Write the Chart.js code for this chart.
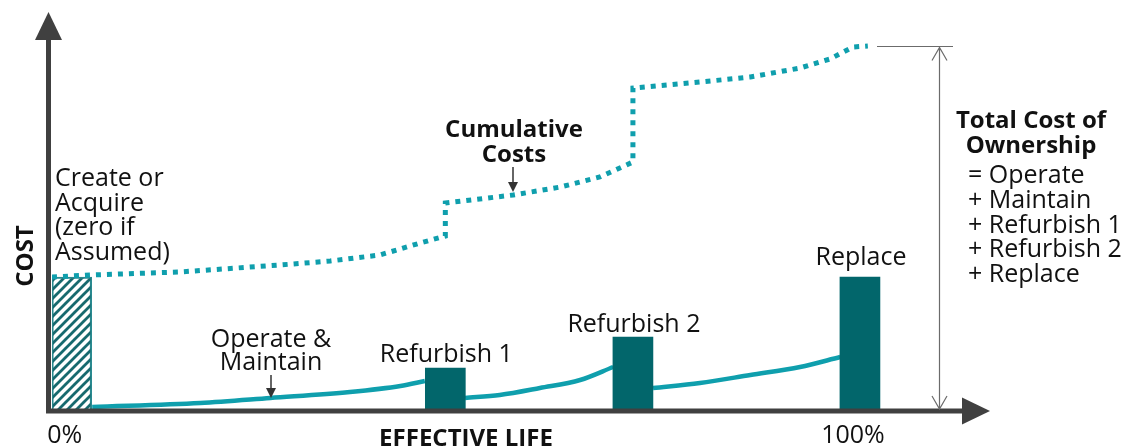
<!DOCTYPE html>
<html>
<head>
<meta charset="utf-8">
<script src="https://cdn.jsdelivr.net/npm/chart.js@4.4.1/dist/chart.umd.min.js"></script>
<style>
    body { margin: 0; background: #fff; }
    canvas { display: block; }
</style>
</head>
<body>
<canvas id="lifeChart" width="1127" height="448"></canvas>
<script>
// Life cycle cost data (x = % of effective life, y = relative cost)

// Tick labels on the life axis
const tickValues = [0, 100];
const tickLabels = ['0%', '100%'];

// Create or acquire (hatched bar at start of life)
const createLife = 0;
const createCost = 33;

// Refurbish / replace bars
const barLabels = ['Refurbish 1', 'Refurbish 2', 'Replace'];
const barLife = [47.4, 71.2, 100];
const barCost = [10.25, 18, 33];

// Operate & maintain curve, one piece between each event
const omLife1 = [2.6, 16.3, 25.2, 35.3, 41.7, 44.8];
const omCost1 = [0.5, 1.5, 2.75, 4.25, 5.75, 7.0];
const omLife2 = [49.9, 54.3, 59.4, 64.5, 68.7];
const omCost2 = [2.75, 3.5, 5.25, 7.25, 10.5];
const omLife3 = [73.75, 79.7, 86.1, 92.4, 97.5];
const omCost3 = [5.25, 6.5, 8.5, 10.5, 13.0];

// Cumulative costs (steps at each refurbishment)
const cumLife = [-2.5, 2.3, 13.7, 26.4, 32.8, 39.1, 44.2, 47.4, 47.4, 56.0, 62.0, 67.0, 71.2, 71.2, 79.7, 86.1, 92.4, 96.2, 99.1, 101.0];
const cumCost = [33, 33.5, 34.25, 36, 37, 38.5, 41.5, 43.25, 51.5, 53.5, 55.5, 58, 61.75, 80.25, 81.75, 83, 85.25, 87.5, 90.5, 90.75];

const TEAL = '#0f9fad';
const DARK_TEAL = '#02666b';
const AXIS = '#404040';
const TEXT = '#111111';
const FONT = '"Open Sans", "DejaVu Sans", sans-serif';

// Zip two arrays into {x, y} points
function toPoints(xs, ys) {
    return xs.map((x, i) => ({ x: x, y: ys[i] }));
}

// Diagonal hatch pattern for the create/acquire bar
function makeHatch(ctx, color) {
    const size = 9;
    const tile = document.createElement('canvas');
    tile.width = size;
    tile.height = size;
    const g = tile.getContext('2d');
    g.strokeStyle = color;
    g.lineWidth = 2.8;
    g.beginPath();
    g.moveTo(0, size); g.lineTo(size, 0);
    g.moveTo(-size / 2, size / 2); g.lineTo(size / 2, -size / 2);
    g.moveTo(size / 2, size * 1.5); g.lineTo(size * 1.5, size / 2);
    g.stroke();
    return ctx.createPattern(tile, 'repeat');
}

function drawText(ctx, str, x, y, bold, align) {
    ctx.font = (bold ? 'bold 24px ' : '25px ') + FONT;
    ctx.textAlign = align || 'center';
    ctx.textBaseline = 'alphabetic';
    ctx.fillStyle = TEXT;
    ctx.fillText(str, x, y);
}

function drawTriangle(ctx, pts) {
    ctx.beginPath();
    ctx.moveTo(pts[0][0], pts[0][1]);
    ctx.lineTo(pts[1][0], pts[1][1]);
    ctx.lineTo(pts[2][0], pts[2][1]);
    ctx.closePath();
    ctx.fill();
}

// Small pointer arrow under a label
function drawPointer(ctx, x, y1, y2) {
    ctx.strokeStyle = '#333';
    ctx.fillStyle = '#333';
    ctx.lineWidth = 1.5;
    ctx.beginPath();
    ctx.moveTo(x, y1);
    ctx.lineTo(x, y2 - 8);
    ctx.stroke();
    drawTriangle(ctx, [[x, y2], [x - 5, y2 - 10], [x + 5, y2 - 10]]);
}

// Axes, arrows and all the annotation text
const overlayPlugin = {
    id: 'overlay',
    afterDatasetsDraw(chart) {
        const ctx = chart.ctx;
        const area = chart.chartArea;
        const xs = chart.scales.x;
        const ys = chart.scales.y;
        ctx.save();

        // Axes with arrow heads
        const ax = area.left - 3.5;
        const ay = area.bottom + 2;
        ctx.strokeStyle = AXIS;
        ctx.fillStyle = AXIS;
        ctx.lineWidth = 5;
        ctx.beginPath();
        ctx.moveTo(ax, ay + 2.5);
        ctx.lineTo(ax, 38);
        ctx.moveTo(ax - 2.5, ay);
        ctx.lineTo(area.right - 26, ay);
        ctx.stroke();
        drawTriangle(ctx, [[ax, 12], [ax - 13.5, 40], [ax + 13.5, 40]]);
        drawTriangle(ctx, [[area.right, ay], [area.right - 28, ay - 13.5], [area.right - 28, ay + 13.5]]);

        // Axis titles
        drawText(ctx, 'EFFECTIVE LIFE', 466, 446, true);
        ctx.save();
        ctx.translate(33, 256);
        ctx.rotate(-Math.PI / 2);
        drawText(ctx, 'COST', 0, 0, true);
        ctx.restore();

        // Tick labels
        tickValues.forEach((v, i) => {
            drawText(ctx, tickLabels[i], xs.getPixelForValue(v) - 7, 443, false);
        });

        // Bar labels
        const labelBaselines = [362, 332, 265];
        barLabels.forEach((label, i) => {
            drawText(ctx, label, xs.getPixelForValue(barLife[i]) + 1, labelBaselines[i], false);
        });

        // Create or acquire note
        ['Create or', 'Acquire', '(zero if', 'Assumed)'].forEach((line, i) => {
            drawText(ctx, line, 55, 186 + i * 24.7, false, 'left');
        });

        // Operate & maintain note
        drawText(ctx, 'Operate &', 271, 347, false);
        drawText(ctx, 'Maintain', 271, 370, false);
        drawPointer(ctx, 271, 375, 398);

        // Cumulative costs note
        drawText(ctx, 'Cumulative', 514, 137, true);
        drawText(ctx, 'Costs', 514, 162, true);
        drawPointer(ctx, 513, 167, 192);

        // Total cost of ownership bracket
        const topY = ys.getPixelForValue(cumCost[cumCost.length - 1]) + 0.5;
        ctx.strokeStyle = '#6b6b6b';
        ctx.lineWidth = 1.2;
        ctx.beginPath();
        ctx.moveTo(877, topY);
        ctx.lineTo(953, topY);
        ctx.moveTo(939.5, topY + 1);
        ctx.lineTo(939.5, area.bottom);
        ctx.moveTo(932, topY + 14); ctx.lineTo(939.5, topY + 1); ctx.lineTo(947, topY + 14);
        ctx.moveTo(932, area.bottom - 13); ctx.lineTo(939.5, area.bottom); ctx.lineTo(947, area.bottom - 13);
        ctx.stroke();

        drawText(ctx, 'Total Cost of', 1031, 128, true);
        drawText(ctx, 'Ownership', 1031, 153, true);
        ['= Operate', '+ Maintain', '+ Refurbish 1', '+ Refurbish 2', '+ Replace'].forEach((line, i) => {
            drawText(ctx, line, 968, 183 + i * 24.8, false, 'left');
        });

        ctx.restore();
    }
};

function createLifeChart() {
    const canvas = document.getElementById('lifeChart');
    const ctx = canvas.getContext('2d');
    const hatch = makeHatch(ctx, '#17696e');

    const omStyle = {
        type: 'line',
        borderColor: TEAL,
        borderWidth: 4.5,
        pointRadius: 0,
        cubicInterpolationMode: 'monotone',
        fill: false,
        order: 2
    };

    new Chart(ctx, {
        type: 'line',
        data: {
            datasets: [
                {
                    type: 'line',
                    label: 'Cumulative Costs',
                    data: toPoints(cumLife, cumCost),
                    borderColor: TEAL,
                    borderWidth: 5,
                    borderDash: [5, 6],
                    borderCapStyle: 'butt',
                    pointRadius: 0,
                    tension: 0,
                    fill: false,
                    order: 0
                },
                {
                    type: 'bar',
                    label: 'Create or Acquire',
                    data: [{ x: createLife, y: createCost }],
                    backgroundColor: hatch,
                    borderColor: '#2a8a90',
                    borderWidth: 1.5,
                    barThickness: 40,
                    grouped: false,
                    order: 1
                },
                {
                    type: 'bar',
                    label: 'Refurbish / Replace',
                    data: toPoints(barLife, barCost),
                    backgroundColor: DARK_TEAL,
                    borderWidth: 0,
                    barThickness: 40,
                    grouped: false,
                    order: 1
                },
                Object.assign({ label: 'Operate & Maintain', data: toPoints(omLife1, omCost1) }, omStyle),
                Object.assign({ label: 'Operate & Maintain', data: toPoints(omLife2, omCost2) }, omStyle),
                Object.assign({ label: 'Operate & Maintain', data: toPoints(omLife3, omCost3) }, omStyle)
            ]
        },
        options: {
            responsive: false,
            animation: false,
            devicePixelRatio: 1,
            layout: {
                padding: { left: 52, right: 137, top: 9, bottom: 39 }
            },
            plugins: {
                legend: { display: false },
                tooltip: { enabled: false }
            },
            scales: {
                x: {
                    type: 'linear',
                    min: -2.5,
                    max: 116.5,
                    offset: false,
                    display: false
                },
                y: {
                    type: 'linear',
                    min: 0,
                    max: 100,
                    display: false
                }
            }
        },
        plugins: [overlayPlugin]
    });
}

document.addEventListener('DOMContentLoaded', createLifeChart);
</script>
</body>
</html>
